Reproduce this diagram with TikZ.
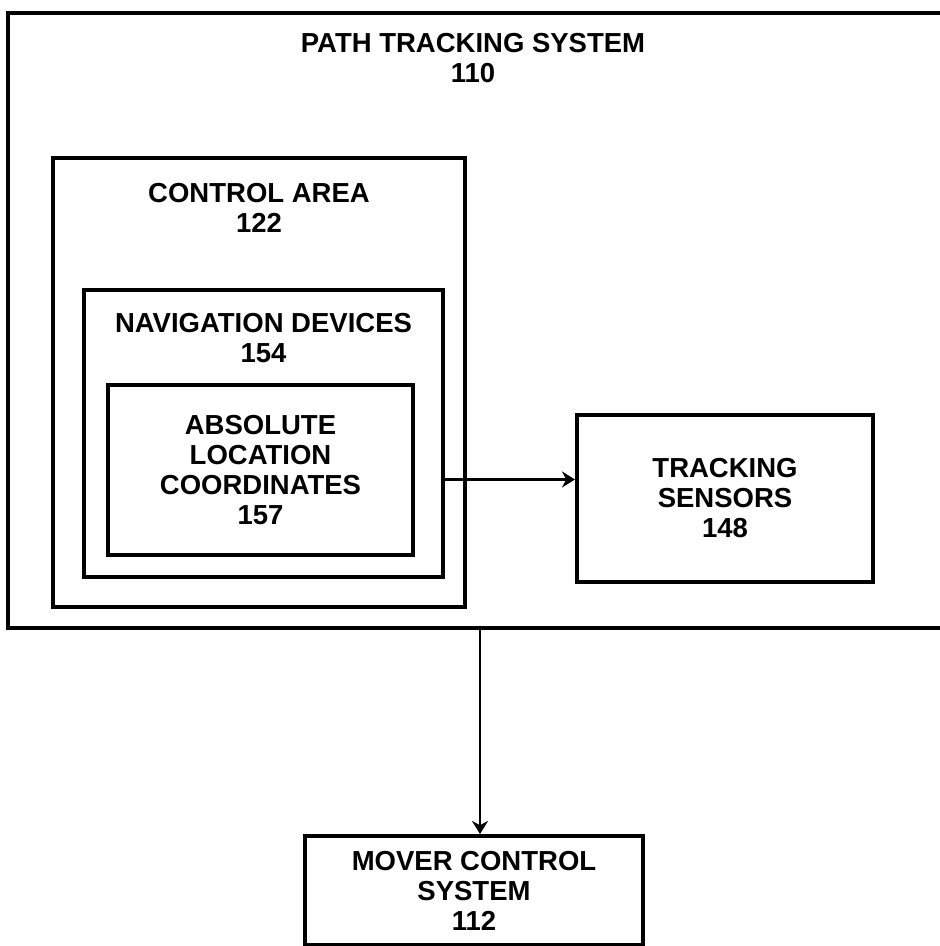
\documentclass[tikz,border=0pt]{standalone}
\usepackage{fontspec}
\setmainfont{Liberation Sans}
\usetikzlibrary{arrows.meta, positioning, calc}
\newcommand{\patentfont}{\bfseries\fontsize{13.75}{15}\selectfont}
\tikzset{
	block/.style={rectangle, draw=black, line width=2pt, inner sep=0pt, align=center, font=\patentfont},
	heading/.style={align=center, inner sep=0pt, font=\patentfont},
	arrow/.style={-{Stealth[length=6.5pt, width=8pt]}, line width=1.4pt},
}

\begin{document}
\begin{tikzpicture}[x=0.5pt, y=-0.5pt]
	\useasboundingbox (0,0) rectangle (940,946);
	\clip (0,0) rectangle (940,946);
	% nested boxes
	\node[block, line width=2.4pt, minimum width=476pt, minimum height=307.5pt] (system) at (484,320.5) {};
	\node[block, minimum width=206pt, minimum height=224.5pt] (control) at (259,382.5) {};
	\node[block, minimum width=179.5pt, minimum height=143.5pt] (navdev) at (263.5,433.5) {};
	\node[block, minimum width=152.5pt, minimum height=85pt] (abscoord) at (260.5,470) {ABSOLUTE\\LOCATION\\COORDINATES\\157};
	\node[block, minimum width=148pt, minimum height=83.5pt] (tracking) at (725,498.5) {TRACKING\\SENSORS\\148};
	\node[block, minimum width=169pt, minimum height=54.5pt] (mover) at (474,890.5) {MOVER CONTROL\\SYSTEM\\112};
	% headings
	\node[heading] (systitle) at ($(system.north)+(-11,47)$) {PATH TRACKING SYSTEM\\110};
	\node[heading] (ctltitle) at ($(control.north)+(0,52)$) {CONTROL AREA\\122};
	\node[heading] (navtitle) at ($(navdev.north)+(0,50)$) {NAVIGATION DEVICES\\154};
	% connectors
	\coordinate (navout) at ([yshift=-23pt]navdev.east);
	\coordinate (drop) at (480,628);
	\draw[arrow] (navout) -- (navout -| tracking.west);
	\draw[arrow] (drop) -- (drop |- mover.north);
\end{tikzpicture}
\end{document}
